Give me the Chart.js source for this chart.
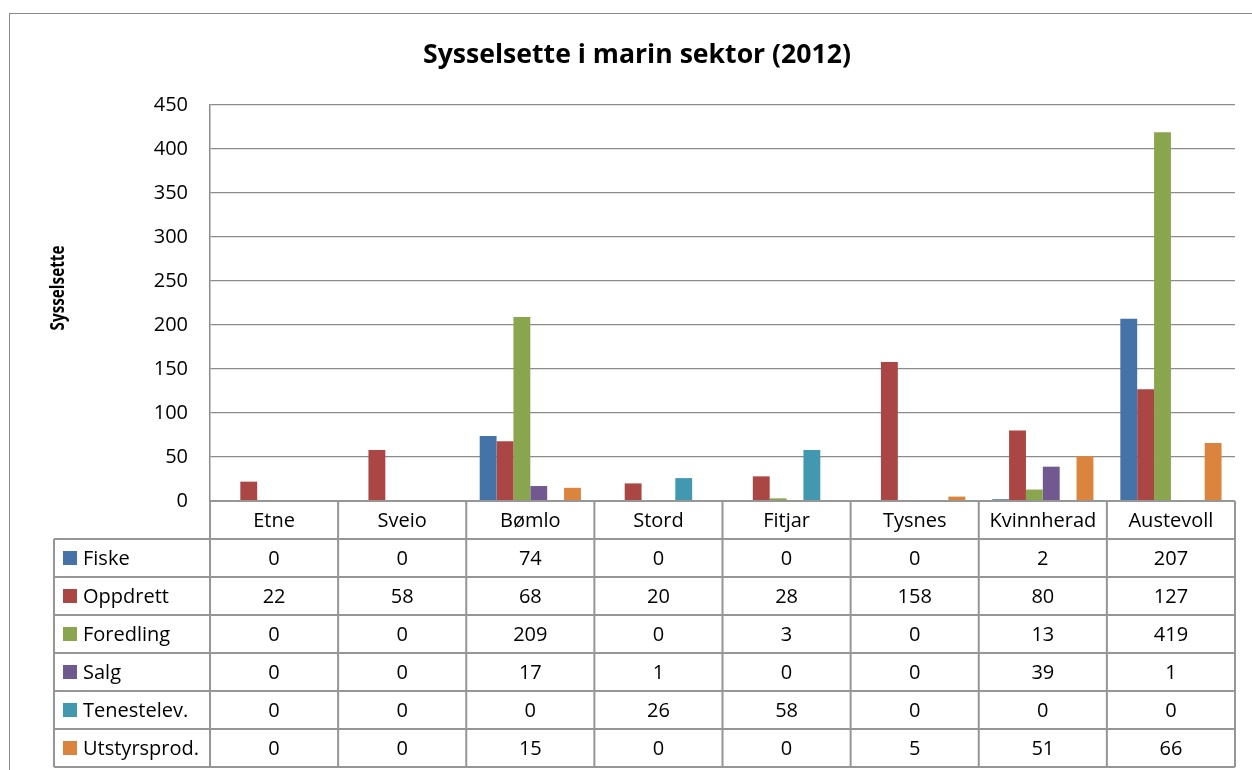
<!DOCTYPE html>
<html>
<head>
<meta charset="utf-8">
<title>Sysselsette i marin sektor (2012)</title>
<script src="https://cdn.jsdelivr.net/npm/chart.js@4"></script>
<style>
body{margin:0;background:#fff;}
#wrap{width:1252px;height:770px;position:relative;}
</style>
</head>
<body>
<div id="wrap"><canvas id="chart-area"></canvas></div>
<script>
// data
var kommunar = ['Etne', 'Sveio', 'Bømlo', 'Stord', 'Fitjar', 'Tysnes', 'Kvinnherad', 'Austevoll'];
var fiske       = [0, 0, 74, 0, 0, 0, 2, 207];
var oppdrett    = [22, 58, 68, 20, 28, 158, 80, 127];
var foredling   = [0, 0, 209, 0, 3, 0, 13, 419];
var salg        = [0, 0, 17, 1, 0, 0, 39, 1];
var tenestelev  = [0, 0, 0, 26, 58, 0, 0, 0];
var utstyrsprod = [0, 0, 15, 0, 0, 5, 51, 66];
var yTicks = [0, 50, 100, 150, 200, 250, 300, 350, 400, 450];

var seriesNames = ['Fiske', 'Oppdrett', 'Foredling', 'Salg', 'Tenestelev.', 'Utstyrsprod.'];
var seriesData = [fiske, oppdrett, foredling, salg, tenestelev, utstyrsprod];
var seriesColors = ['#4572A7', '#AA4643', '#89A54E', '#71588F', '#4198AF', '#DB843D'];

var FONT = '"Open Sans", "Noto Sans", sans-serif';

// draw bold text at a given size, stretched/squeezed along its length to a target width
// (the original uses a narrow font, Calibri, which is not installed)
function fittedText(ctx, text, size, target) {
    ctx.font = 'bold ' + size + 'px ' + FONT;
    var w = ctx.measureText(text).width;
    ctx.save();
    ctx.scale(target / w, 1);
    ctx.fillText(text, 0, 0);
    ctx.restore();
}

var tablePlugin = {
    id: 'dataTable',
    afterDraw: function(chart) {
        var ctx = chart.ctx;
        var area = chart.chartArea;
        var x = chart.scales.x;
        var colW = (area.right - area.left) / kommunar.length;
        var rowH = 38;
        var top = area.bottom;
        var tableLeft = 54;
        var bottom = top + rowH * (seriesNames.length + 1);

        ctx.save();
        // outer frame
        ctx.strokeStyle = '#8a8a8a';
        ctx.lineWidth = 1;
        ctx.strokeRect(9.5, 13.5, 1300, 800);

        // title
        ctx.fillStyle = '#000';
        ctx.textAlign = 'center';
        ctx.textBaseline = 'middle';
        ctx.save();
        ctx.translate(637, 55);
        fittedText(ctx, 'Sysselsette i marin sektor (2012)', 27, 428);
        ctx.restore();

        // y axis title
        ctx.save();
        ctx.translate(59, 288);
        ctx.rotate(-Math.PI / 2);
        fittedText(ctx, 'Sysselsette', 19, 85);
        ctx.restore();

        // table grid
        ctx.strokeStyle = '#969696';
        ctx.lineWidth = 2;
        ctx.beginPath();
        ctx.moveTo(area.left, top);
        ctx.lineTo(area.right, top);
        for (var r = 1; r <= seriesNames.length + 1; r++) {
            ctx.moveTo(tableLeft, top + r * rowH);
            ctx.lineTo(area.right, top + r * rowH);
        }
        ctx.moveTo(tableLeft, top + rowH);
        ctx.lineTo(tableLeft, bottom);
        for (var i = 0; i <= kommunar.length; i++) {
            var xx = area.left + i * colW;
            ctx.moveTo(xx, top);
            ctx.lineTo(xx, bottom);
        }
        ctx.stroke();

        // table text
        ctx.fillStyle = '#000';
        ctx.font = '20px ' + FONT;
        ctx.textAlign = 'center';
        ctx.textBaseline = 'middle';
        for (var k = 0; k < kommunar.length; k++) {
            ctx.fillText(kommunar[k], x.getPixelForValue(k), top + rowH / 2 + 1);
        }
        for (var s = 0; s < seriesNames.length; s++) {
            var cy = top + (s + 1.5) * rowH;
            ctx.fillStyle = seriesColors[s];
            ctx.fillRect(63, cy - 7, 14, 14);
            ctx.fillStyle = '#000';
            ctx.textAlign = 'left';
            ctx.fillText(seriesNames[s], 83, cy + 1);
            ctx.textAlign = 'center';
            for (var c = 0; c < kommunar.length; c++) {
                ctx.fillText(String(seriesData[s][c]), x.getPixelForValue(c), cy + 1);
            }
        }
        ctx.restore();
    }
};

var datasets = [];
for (var d = 0; d < seriesNames.length; d++) {
    datasets.push({
        label: seriesNames[d],
        data: seriesData[d],
        backgroundColor: seriesColors[d],
        borderWidth: 0,
        categoryPercentage: 0.79,
        barPercentage: 1.0
    });
}

var config = {
    type: 'bar',
    data: {
        labels: kommunar,
        datasets: datasets
    },
    options: {
        responsive: true,
        maintainAspectRatio: false,
        animation: false,
        events: [],
        layout: {
            padding: { left: 0, top: 105, right: 17, bottom: 269 }
        },
        plugins: {
            legend: { display: false },
            title: { display: false },
            tooltip: { enabled: false }
        },
        scales: {
            x: {
                display: false
            },
            y: {
                min: 0,
                max: 450,
                afterBuildTicks: function(scale) {
                    scale.ticks = yTicks.map(function(v) { return { value: v }; });
                },
                afterFit: function(scale) {
                    scale.width = 210;
                },
                grid: {
                    color: '#8c8c8c',
                    lineWidth: 1.3,
                    drawTicks: false
                },
                border: {
                    display: true,
                    color: '#8c8c8c',
                    width: 1.5
                },
                ticks: {
                    padding: 22,
                    color: '#000',
                    font: { family: FONT, size: 20 }
                }
            }
        }
    },
    plugins: [tablePlugin]
};

var ctx = document.getElementById('chart-area').getContext('2d');
window.myBar = new Chart(ctx, config);
</script>
</body>
</html>
